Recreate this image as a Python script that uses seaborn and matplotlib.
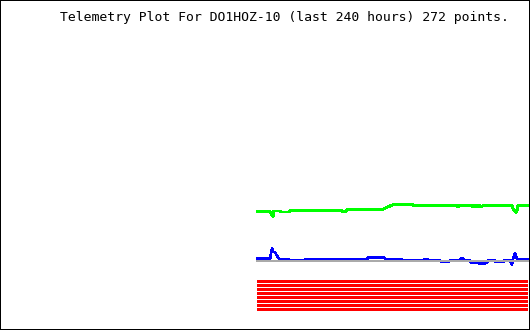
import matplotlib
matplotlib.use("Agg")
import matplotlib.pyplot as plt
import seaborn as sns
import pandas as pd

TITLE = "Telemetry Plot For DO1HOZ-10 (last 240 hours) 272 points."
N_POINTS = 272

# analog channel 1 (green): sample index -> value
green_idx = [0, 13, 14, 15, 16, 17, 23, 24, 32, 33, 85, 86, 88, 89, 90, 125, 128, 131, 134, 136,
             156, 157, 200, 201, 202, 203, 215, 216, 217, 218, 219, 220, 221, 222, 223, 224, 225, 226,
             255, 256, 257, 258, 259, 260, 261, 271]
green_val = [49.0, 49.0, 47.0, 45.0, 44.5, 49.7, 49.7, 48.7, 48.7, 50.0, 50.0, 49.0, 49.0, 50.0, 51.0, 51.0, 52.5, 54.0, 55.0, 56.0,
             56.0, 55.0, 55.0, 54.0, 55.0, 55.0, 55.0, 54.0, 55.0, 54.0, 55.0, 54.0, 55.0, 54.0, 55.0, 54.0, 54.5, 55.0,
             55.0, 52.0, 51.0, 49.0, 48.5, 50.0, 55.3, 55.3]

# analog channel 2 (blue)
blue_idx = [0, 2, 4, 6, 8, 10, 12, 13, 15, 16, 18, 20, 22, 25, 28, 32, 33, 47, 48, 110, 111, 127, 128,
            136, 137, 145, 146, 166, 167, 171, 172, 183, 184, 192, 193, 203, 204, 206, 207, 213, 214, 220,
            225, 230, 231, 238, 239, 246, 247, 253, 254, 255, 256, 257, 258, 259, 260, 262, 271]
blue_val = [2.0, 2.5, 1.5, 2.5, 1.5, 2.5, 1.5, 1.5, 12.7, 8.5, 8.5, 5.0, 2.0, 1.5, 1.5, 1.5, 0.0, 0.0, 1.2, 1.2, 3.3, 3.3, 1.7,
            1.7, 1.2, 1.2, 0.0, 0.0, 1.2, 1.2, 0.0, 0.0, -1.2, -1.2, 0.0, 0.0, 2.5, 2.5, 0.0, 0.0, -2.0, -2.3,
            -2.8, -2.3, 0.0, 0.0, -1.5, -1.5, 0.0, 0.0, -1.5, -4.3, 2.0, 5.0, 7.7, 5.0, 2.0, 1.5, 1.5]

# digital bits (red), all set, drawn as stripes below the baseline
bit_names = ["B1", "B2", "B3", "B4", "B5", "B6", "B7", "B8"]
bit_levels = [-20.8, -24.8, -28.8, -32.8, -36.8, -40.8, -44.8, -48.8]

sns.set_style("white")
fig = plt.figure(figsize=(5.3, 3.3), dpi=100)
ax = fig.add_axes([0, 0, 1, 1])

px = 72 / 100  # points per pixel

df_blue = pd.DataFrame({"i": blue_idx, "v": blue_val})
sns.lineplot(data=df_blue, x="i", y="v", ax=ax, color="#0000ff", lw=1.6 * px,
             estimator=None, sort=False, zorder=2, antialiased=False)

df_base = pd.DataFrame({"i": [0, N_POINTS - 1], "v": [0.0, 0.0]})
sns.lineplot(data=df_base, x="i", y="v", ax=ax, color="#aaaaaa", lw=2 * px,
             estimator=None, sort=False, zorder=3, antialiased=False)

df_green = pd.DataFrame({"i": green_idx, "v": green_val})
sns.lineplot(data=df_green, x="i", y="v", ax=ax, color="#00ff00", lw=2 * px,
             estimator=None, sort=False, zorder=4, antialiased=False)

for name, lvl in zip(bit_names, bit_levels):
    d = pd.DataFrame({"i": [0, N_POINTS - 1], "v": [lvl, lvl]})
    sns.lineplot(data=d, x="i", y="v", ax=ax, color="#ff0000", lw=3.0 * px,
                 estimator=None, sort=False, solid_capstyle="butt", zorder=2,
                 antialiased=False, snap=False)

ax.set_xlim(-257, 273)
ax.set_ylim(-69.3, 260.7)
ax.set_xticks([])
ax.set_yticks([])
ax.set_xlabel("")
ax.set_ylabel("")
for s in ax.spines.values():
    s.set_visible(True)
    s.set_color("black")
    s.set_linewidth(2 * px)

fig.text(60 / 530, 1 - 17 / 330, TITLE, family="DejaVu Sans Mono", fontsize=9.45,
         ha="left", va="center", color="black")

fig.savefig("out.png", dpi=100)
